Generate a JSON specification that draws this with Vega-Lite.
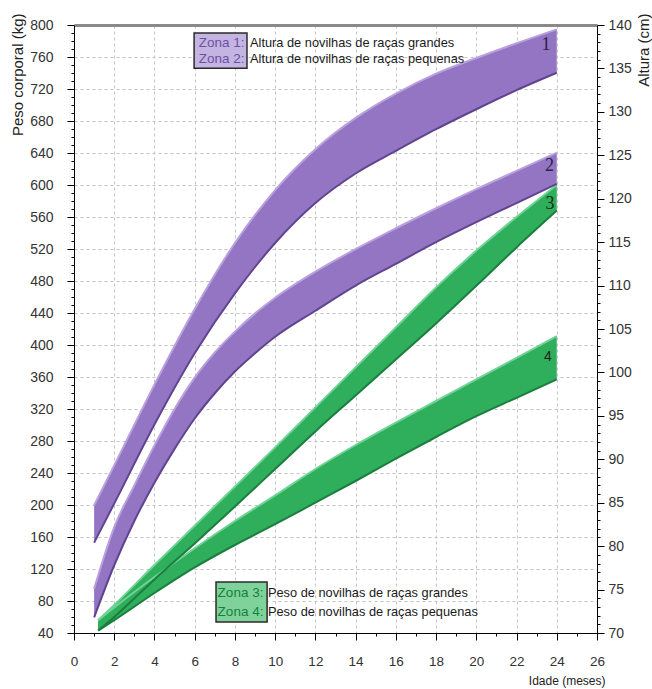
{
  "$schema": "https://vega.github.io/schema/vega-lite/v6.json",
  "width": 523,
  "height": 608,
  "autosize": {"type": "none"},
  "padding": {"left": 74, "top": 25, "right": 55, "bottom": 56},
  "background": "white",
  "config": {
    "view": {"stroke": null},
    "axis": {"labelFont": "Liberation Sans", "titleFont": "Liberation Sans", "labelColor": "#333", "titleColor": "#222", "titleFontWeight": "normal"}
  },
  "datasets": {
    "altura": [
      {"zona": "Zona 1", "idade": 1, "min": 80.4, "max": 84.7},
      {"zona": "Zona 1", "idade": 2, "min": 84.9, "max": 89.3},
      {"zona": "Zona 1", "idade": 4, "min": 94.0, "max": 98.6},
      {"zona": "Zona 1", "idade": 6, "min": 102.2, "max": 107.3},
      {"zona": "Zona 1", "idade": 8, "min": 109.1, "max": 114.9},
      {"zona": "Zona 1", "idade": 10, "min": 114.9, "max": 121.0},
      {"zona": "Zona 1", "idade": 12, "min": 119.5, "max": 125.7},
      {"zona": "Zona 1", "idade": 14, "min": 122.9, "max": 129.3},
      {"zona": "Zona 1", "idade": 16, "min": 125.5, "max": 132.1},
      {"zona": "Zona 1", "idade": 18, "min": 128.0, "max": 134.4},
      {"zona": "Zona 1", "idade": 20, "min": 130.3, "max": 136.2},
      {"zona": "Zona 1", "idade": 22, "min": 132.5, "max": 137.9},
      {"zona": "Zona 1", "idade": 24, "min": 134.5, "max": 139.5},
      {"zona": "Zona 2", "idade": 1, "min": 71.8, "max": 75.1},
      {"zona": "Zona 2", "idade": 2, "min": 77.8, "max": 82.2},
      {"zona": "Zona 2", "idade": 3, "min": 82.9, "max": 87.0},
      {"zona": "Zona 2", "idade": 4, "min": 87.3, "max": 91.6},
      {"zona": "Zona 2", "idade": 5, "min": 91.2, "max": 95.8},
      {"zona": "Zona 2", "idade": 6, "min": 94.7, "max": 99.4},
      {"zona": "Zona 2", "idade": 7, "min": 97.6, "max": 102.3},
      {"zona": "Zona 2", "idade": 8, "min": 100.1, "max": 104.7},
      {"zona": "Zona 2", "idade": 9, "min": 102.2, "max": 106.8},
      {"zona": "Zona 2", "idade": 10, "min": 104.1, "max": 108.6},
      {"zona": "Zona 2", "idade": 12, "min": 107.1, "max": 111.6},
      {"zona": "Zona 2", "idade": 14, "min": 110.0, "max": 114.2},
      {"zona": "Zona 2", "idade": 16, "min": 112.5, "max": 116.6},
      {"zona": "Zona 2", "idade": 18, "min": 115.0, "max": 118.9},
      {"zona": "Zona 2", "idade": 20, "min": 117.3, "max": 121.1},
      {"zona": "Zona 2", "idade": 22, "min": 119.5, "max": 123.2},
      {"zona": "Zona 2", "idade": 24, "min": 121.7, "max": 125.3}
    ],
    "peso": [
      {"zona": "Zona 4", "idade": 1.2, "min": 43, "max": 56},
      {"zona": "Zona 4", "idade": 2, "min": 56, "max": 72},
      {"zona": "Zona 4", "idade": 4, "min": 90, "max": 110},
      {"zona": "Zona 4", "idade": 6, "min": 122, "max": 146},
      {"zona": "Zona 4", "idade": 8, "min": 150, "max": 180},
      {"zona": "Zona 4", "idade": 10, "min": 176, "max": 212},
      {"zona": "Zona 4", "idade": 12, "min": 203, "max": 245},
      {"zona": "Zona 4", "idade": 14, "min": 230, "max": 275},
      {"zona": "Zona 4", "idade": 16, "min": 258, "max": 303},
      {"zona": "Zona 4", "idade": 18, "min": 285, "max": 330},
      {"zona": "Zona 4", "idade": 20, "min": 311, "max": 357},
      {"zona": "Zona 4", "idade": 22, "min": 334, "max": 384},
      {"zona": "Zona 4", "idade": 24, "min": 357, "max": 411},
      {"zona": "Zona 3", "idade": 1.2, "min": 43, "max": 56},
      {"zona": "Zona 3", "idade": 2, "min": 60, "max": 75},
      {"zona": "Zona 3", "idade": 4, "min": 107, "max": 125},
      {"zona": "Zona 3", "idade": 6, "min": 152, "max": 174},
      {"zona": "Zona 3", "idade": 8, "min": 198, "max": 223},
      {"zona": "Zona 3", "idade": 10, "min": 245, "max": 272},
      {"zona": "Zona 3", "idade": 12, "min": 292, "max": 322},
      {"zona": "Zona 3", "idade": 14, "min": 337, "max": 372},
      {"zona": "Zona 3", "idade": 16, "min": 382, "max": 422},
      {"zona": "Zona 3", "idade": 18, "min": 427, "max": 472},
      {"zona": "Zona 3", "idade": 20, "min": 474, "max": 518},
      {"zona": "Zona 3", "idade": 22, "min": 522, "max": 560},
      {"zona": "Zona 3", "idade": 24, "min": 568, "max": 600}
    ]
  },
  "layer": [
    {
      "data": {"name": "peso"},
      "encoding": {
        "x": {
          "field": "idade", "type": "quantitative",
          "scale": {"domain": [0, 26], "nice": false, "zero": false},
          "axis": {
            "orient": "bottom", "title": "Idade (meses)", "tickCount": 26,
            "labelExpr": "datum.value % 2 === 0 ? datum.label : ''",
            "labelFlush": false, "labelOverlap": false, "labelFontSize": 13.5, "labelPadding": 14,
            "tickSize": {"condition": {"test": "datum.value % 2 === 0", "value": 7}, "value": 3},
            "tickColor": "#000", "domainColor": "#000",
            "grid": true, "gridColor": "#c4c4c4", "gridDash": [3, 3],
            "gridOpacity": {"condition": {"test": "datum.value % 2 === 0 && datum.value > 0 && datum.value < 26", "value": 1}, "value": 0},
            "titleFontSize": 12, "titleAnchor": "end", "titleAlign": "right", "titleX": 531, "titleY": 47, "titleBaseline": "middle"
          }
        },
        "y": {
          "field": "max", "type": "quantitative", "title": "Peso corporal (kg)",
          "scale": {"domain": [40, 800], "nice": false, "zero": false},
          "axis": {
            "orient": "left", "title": "Peso corporal (kg)", "tickCount": 76,
            "labelExpr": "datum.value % 40 === 0 ? datum.label : ''",
            "labelFlush": false, "labelOverlap": false, "labelFontSize": 14, "labelPadding": 14,
            "tickSize": {"condition": {"test": "datum.value % 40 === 0", "value": 7}, "value": 3},
            "tickColor": "#000", "domainColor": "#000",
            "grid": true, "gridColor": "#c4c4c4", "gridDash": [3, 3],
            "gridOpacity": {"condition": {"test": "datum.value % 40 === 0 && datum.value > 40 && datum.value < 800", "value": 1}, "value": 0},
            "titleFontSize": 15, "titleAngle": -90, "titleAnchor": "end", "titleAlign": "right", "titleX": -57, "titleY": -12, "titleBaseline": "middle"
          }
        },
        "detail": {"field": "zona"}
      },
      "layer": [
        {"mark": {"type": "area", "interpolate": "monotone", "color": "#2fae5c", "opacity": 1}, "encoding": {"y2": {"field": "min"}}},
        {"mark": {"type": "line", "interpolate": "monotone", "color": "#6fd396", "strokeWidth": 2}},
        {"mark": {"type": "line", "interpolate": "monotone", "color": "#1b7e40", "strokeWidth": 2}, "encoding": {"y": {"field": "min", "type": "quantitative", "title": "Peso corporal (kg)"}}}
      ]
    },
    {
      "data": {"name": "altura"},
      "encoding": {
        "x": {
          "field": "idade", "type": "quantitative",
          "scale": {"domain": [0, 26], "nice": false, "zero": false},
          "axis": {"orient": "top", "title": null, "labels": false, "ticks": false, "grid": false, "domainColor": "#8a8a8a", "domainWidth": 3}
        },
        "y": {
          "field": "max", "type": "quantitative", "title": "Altura (cm)",
          "scale": {"domain": [70, 140], "nice": false, "zero": false},
          "axis": {
            "orient": "right", "title": "Altura (cm)", "tickCount": 70,
            "labelExpr": "datum.value % 5 === 0 ? datum.label : ''",
            "labelFlush": false, "labelOverlap": false, "labelFontSize": 14, "labelPadding": 4,
            "tickSize": {"condition": {"test": "datum.value % 5 === 0", "value": 7}, "value": 3},
            "tickColor": "#000", "domainColor": "#000", "grid": false,
            "titleFontSize": 15, "titleAngle": -90, "titleAnchor": "end", "titleAlign": "right", "titleX": 46, "titleY": -12, "titleBaseline": "middle"
          }
        },
        "detail": {"field": "zona"}
      },
      "layer": [
        {"mark": {"type": "area", "interpolate": "monotone", "color": "#9475c4", "opacity": 1}, "encoding": {"y2": {"field": "min"}}},
        {"mark": {"type": "line", "interpolate": "monotone", "color": "#b8a2de", "strokeWidth": 2}},
        {"mark": {"type": "line", "interpolate": "monotone", "color": "#5f4590", "strokeWidth": 2}, "encoding": {"y": {"field": "min", "type": "quantitative", "title": "Altura (cm)"}}}
      ]
    },
    {
      "data": {"values": [{}]},
      "layer": [
        {"mark": {"type": "text", "font": "Liberation Serif", "fontSize": 18, "color": "#2a2346", "align": "center", "baseline": "middle"}, "encoding": {"x": {"datum": 23.47, "type": "quantitative", "axis": null}, "y": {"datum": 775.6, "type": "quantitative", "scale": {"domain": [40, 800], "nice": false, "zero": false}, "axis": null}, "text": {"value": "1"}}},
        {"mark": {"type": "text", "font": "Liberation Serif", "fontSize": 18, "color": "#2a2346", "align": "center", "baseline": "middle"}, "encoding": {"x": {"datum": 23.64, "type": "quantitative", "axis": null}, "y": {"datum": 623.7, "type": "quantitative", "axis": null}, "text": {"value": "2"}}},
        {"mark": {"type": "text", "font": "Liberation Serif", "fontSize": 18, "color": "#1e2a1e", "align": "center", "baseline": "middle"}, "encoding": {"x": {"datum": 23.66, "type": "quantitative", "axis": null}, "y": {"datum": 576, "type": "quantitative", "axis": null}, "text": {"value": "3"}}},
        {"mark": {"type": "text", "font": "Liberation Sans", "fontSize": 14, "color": "#222", "align": "center", "baseline": "middle"}, "encoding": {"x": {"datum": 23.56, "type": "quantitative", "axis": null}, "y": {"datum": 385, "type": "quantitative", "axis": null}, "text": {"value": "4"}}},
        {"mark": {"type": "rect", "fill": "#c4b4e2", "stroke": "#2b2b2b", "strokeWidth": 1.5}, "encoding": {"x": {"datum": 5.97, "type": "quantitative", "axis": null}, "x2": {"datum": 8.6}, "y": {"datum": 790, "type": "quantitative", "axis": null}, "y2": {"datum": 746}}},
        {"mark": {"type": "rect", "fill": "#7fd39a", "stroke": "#2b2b2b", "strokeWidth": 1.5}, "encoding": {"x": {"datum": 7.06, "type": "quantitative", "axis": null}, "x2": {"datum": 9.6}, "y": {"datum": 103.75, "type": "quantitative", "axis": null}, "y2": {"datum": 53.75}}},
        {"mark": {"type": "text", "font": "Liberation Sans", "fontSize": 13.5, "color": "#6d51a0", "align": "left", "baseline": "middle"}, "encoding": {"x": {"datum": 6.2, "type": "quantitative", "axis": null}, "y": {"datum": 778, "type": "quantitative", "axis": null}, "text": {"value": "Zona 1:"}}},
        {"mark": {"type": "text", "font": "Liberation Sans", "fontSize": 13.5, "color": "#6d51a0", "align": "left", "baseline": "middle"}, "encoding": {"x": {"datum": 6.2, "type": "quantitative", "axis": null}, "y": {"datum": 757.5, "type": "quantitative", "axis": null}, "text": {"value": "Zona 2:"}}},
        {"mark": {"type": "text", "font": "Liberation Sans", "fontSize": 12.8, "color": "#1a1a1a", "align": "left", "baseline": "middle"}, "encoding": {"x": {"datum": 8.75, "type": "quantitative", "axis": null}, "y": {"datum": 778, "type": "quantitative", "axis": null}, "text": {"value": "Altura de novilhas de raças grandes"}}},
        {"mark": {"type": "text", "font": "Liberation Sans", "fontSize": 12.8, "color": "#1a1a1a", "align": "left", "baseline": "middle"}, "encoding": {"x": {"datum": 8.75, "type": "quantitative", "axis": null}, "y": {"datum": 757.5, "type": "quantitative", "axis": null}, "text": {"value": "Altura de novilhas de raças pequenas"}}},
        {"mark": {"type": "text", "font": "Liberation Sans", "fontSize": 13.5, "color": "#15803d", "align": "left", "baseline": "middle"}, "encoding": {"x": {"datum": 7.14, "type": "quantitative", "axis": null}, "y": {"datum": 90, "type": "quantitative", "axis": null}, "text": {"value": "Zona 3:"}}},
        {"mark": {"type": "text", "font": "Liberation Sans", "fontSize": 13.5, "color": "#15803d", "align": "left", "baseline": "middle"}, "encoding": {"x": {"datum": 7.14, "type": "quantitative", "axis": null}, "y": {"datum": 66.6, "type": "quantitative", "axis": null}, "text": {"value": "Zona 4:"}}},
        {"mark": {"type": "text", "font": "Liberation Sans", "fontSize": 12.8, "color": "#1a1a1a", "align": "left", "baseline": "middle"}, "encoding": {"x": {"datum": 9.64, "type": "quantitative", "axis": null}, "y": {"datum": 90, "type": "quantitative", "axis": null}, "text": {"value": "Peso de novilhas de raças grandes"}}},
        {"mark": {"type": "text", "font": "Liberation Sans", "fontSize": 12.8, "color": "#1a1a1a", "align": "left", "baseline": "middle"}, "encoding": {"x": {"datum": 9.64, "type": "quantitative", "axis": null}, "y": {"datum": 66.6, "type": "quantitative", "axis": null}, "text": {"value": "Peso de novilhas de raças pequenas"}}}
      ]
    }
  ],
  "resolve": {"scale": {"y": "independent"}, "axis": {"y": "independent", "x": "independent"}}
}
